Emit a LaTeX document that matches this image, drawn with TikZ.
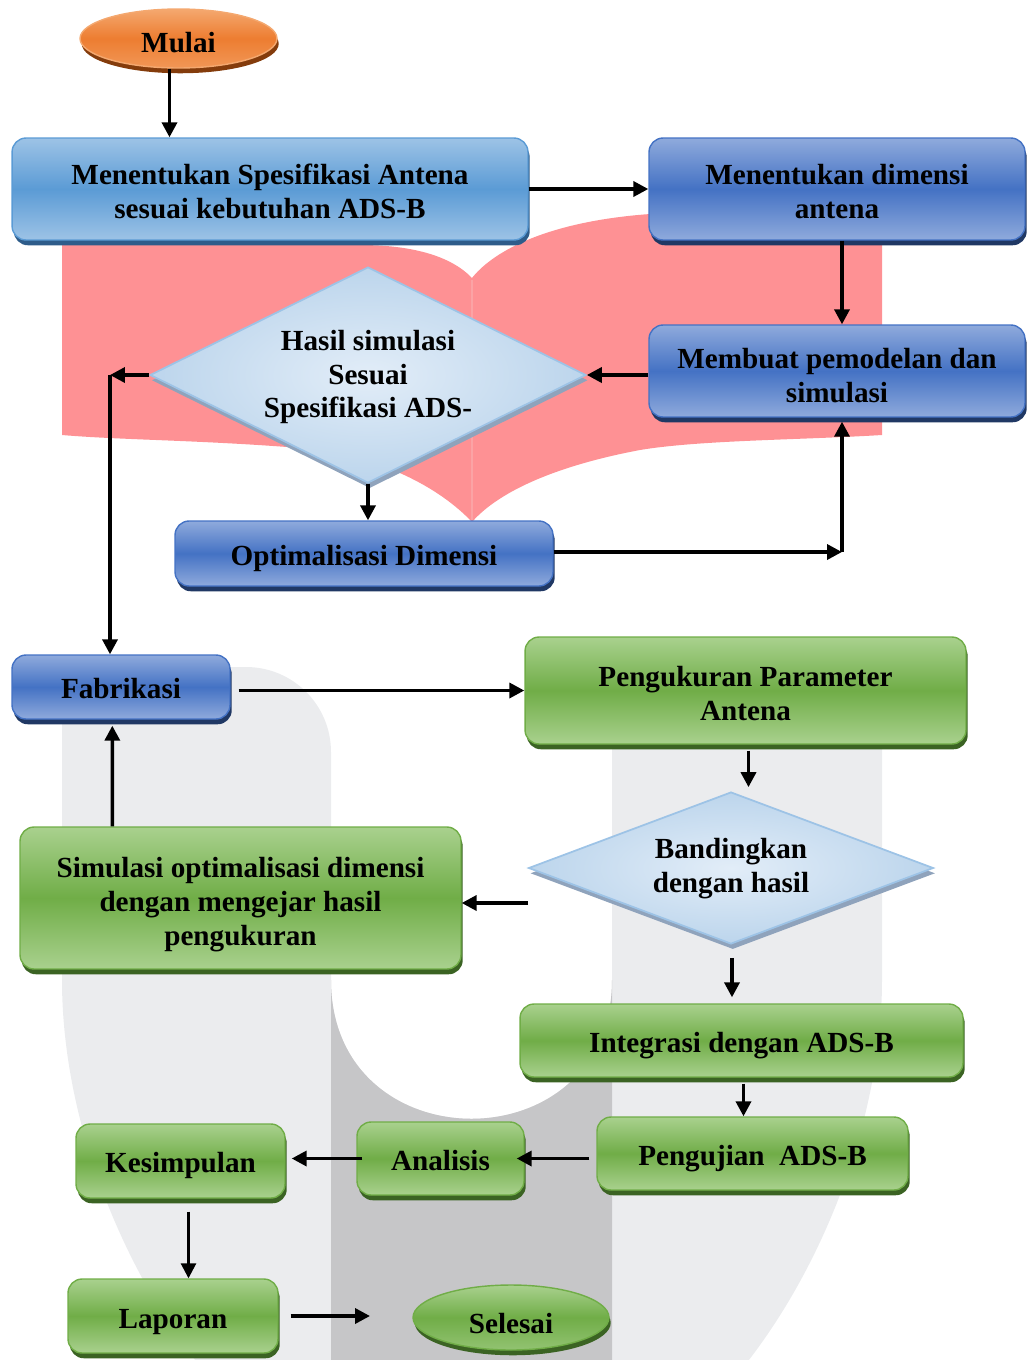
\documentclass[tikz,border=0pt]{standalone}
\usepackage{fontspec}
\setmainfont{Liberation Serif}
\usetikzlibrary{shapes.geometric,shadows,arrows.meta,calc}

\definecolor{pinkbk}{HTML}{FE9194}
\definecolor{pinksp}{HTML}{FBA3A5}
\definecolor{ulight}{HTML}{EBECEE}
\definecolor{udark}{HTML}{C6C6C8}
\definecolor{orgA}{HTML}{F4A86F}
\definecolor{orgB}{HTML}{ED7D31}
\definecolor{orgS}{HTML}{843C0C}
\definecolor{lbA}{HTML}{9DC3E6}
\definecolor{lbB}{HTML}{5B9BD5}
\definecolor{lbS}{HTML}{2E5C8A}
\definecolor{dbA}{HTML}{8FAADC}
\definecolor{dbB}{HTML}{4472C4}
\definecolor{dbS}{HTML}{203864}
\definecolor{grA}{HTML}{A9D18E}
\definecolor{grB}{HTML}{70AD47}
\definecolor{grS}{HTML}{3B6323}
\definecolor{diA}{HTML}{E2EDF8}
\definecolor{diB}{HTML}{BCD5EC}
\definecolor{diS}{HTML}{8FA3BC}
\definecolor{diD}{HTML}{9DC3E6}

% text block lowered a little inside its node (as in the reference)
\newcommand\lowtx[2][2.6pt]{\raisebox{-#1}[\height][\depth]{\begin{tabular}{@{}c@{}}#2\end{tabular}}}

\begin{document}
\begin{tikzpicture}[x=0.02cm, y=-0.02cm,
  txt/.style={font=\bfseries\fontsize{16.6}{19.3}\selectfont, text=black, inner sep=0pt},
  boxbase/.style={txt, rectangle, rounded corners=8pt, line width=0.8pt},
  lbbox/.style={boxbase, draw=lbB, top color=lbA, bottom color=lbA, middle color=lbB,
    drop shadow={shadow xshift=1pt, shadow yshift=-3pt, fill=lbS, opacity=1}},
  dbbox/.style={boxbase, draw=dbB, top color=dbA, bottom color=dbA, middle color=dbB,
    drop shadow={shadow xshift=1pt, shadow yshift=-3pt, fill=dbS, opacity=1}},
  gbox/.style={boxbase, draw=grB, top color=grA, bottom color=grA, middle color=grB,
    drop shadow={shadow xshift=1pt, shadow yshift=-3pt, fill=grS, opacity=1}},
  gell/.style={txt, ellipse, line width=0.8pt, draw=grB, top color=grA, bottom color=grA!60!grB, middle color=grB,
    drop shadow={shadow xshift=1pt, shadow yshift=-3pt, fill=grS, opacity=1}},
  oell/.style={txt, ellipse, line width=0.8pt, draw=orgA, top color=orgA, bottom color=orgA!60!orgB, middle color=orgB,
    drop shadow={shadow xshift=1pt, shadow yshift=-3pt, fill=orgS, opacity=1}},
  dia/.style={txt, diamond, draw=diD, line width=1pt, inner color=diA, outer color=diB,
    drop shadow={shadow xshift=1pt, shadow yshift=-3pt, fill=diS, opacity=1}},
  arr/.style={line width=2pt, -{Triangle[length=8.5pt,width=8.5pt]}},
]
\useasboundingbox (0,0) rectangle (1027,1360);

% ---------- background ----------
\begin{scope}
\clip (0,0) rectangle (1027,1360);
\fill[ulight] (62,980) -- (62,667) -- (246,667) .. controls (293,667) and (331,705) .. (331,752)
  -- (331,980) .. controls (331,1165) and (612,1165) .. (612,980)
  -- (612,730) .. controls (612,690) and (640,660) .. (690,660) -- (805,660)
  .. controls (850,660) and (882,695) .. (882,735) -- (882,980)
  .. controls (882,1150) and (794,1330) .. (694,1420) -- (250,1420)
  .. controls (150,1330) and (62,1150) .. (62,980) -- cycle;
\fill[udark] (331,980) .. controls (331,1165) and (612,1165) .. (612,980) -- (612,1420) -- (331,1420) -- cycle;
\fill[pinkbk] (62,245) -- (360,245) .. controls (410,245) and (450,255) .. (472,278)
  .. controls (490,255) and (540,222) .. (650,214) -- (882,213) -- (882,435)
  .. controls (800,440) and (700,440) .. (640,450) .. controls (560,465) and (500,490) .. (472,522)
  .. controls (440,488) and (380,455) .. (300,448) .. controls (200,440) and (120,440) .. (62,435) -- cycle;
\draw[pinksp, line width=0.8pt] (472,280) -- (472,520);
\end{scope}

% ---------- nodes ----------
\node[oell, minimum width=3.94cm, minimum height=1.18cm] (mulai) at (178.5,38.5) {\lowtx[4pt]{Mulai}};
\node[lbbox, minimum width=10.32cm, minimum height=2.04cm] (spec) at (270,189) {\lowtx[3.4pt]{Menentukan Spesifikasi Antena\\sesuai kebutuhan ADS-B}};
\node[dbbox, minimum width=7.52cm, minimum height=2.04cm] (dim) at (837,189) {\lowtx[3.4pt]{Menentukan dimensi\\antena}};
\node[dbbox, minimum width=7.52cm, minimum height=1.84cm] (model) at (837,371) {\lowtx[4.5pt]{Membuat pemodelan dan\\simulasi}};
\node[dia, aspect=2, minimum width=8.72cm, minimum height=4.32cm] (d1) at (368,375) {\lowtx[1.3pt]{Hasil simulasi\\Sesuai\\Spesifikasi ADS-}};
\node[dbbox, minimum width=7.56cm, minimum height=1.30cm] (opt) at (364,553.5) {\lowtx[3.2pt]{Optimalisasi Dimensi}};
\node[dbbox, minimum width=4.36cm, minimum height=1.28cm] (fab) at (121,687) {\lowtx[2.8pt]{Fabrikasi}};
\node[gbox, minimum width=8.82cm, minimum height=2.14cm] (ukur) at (745.5,690.5) {\lowtx[3.6pt]{Pengukuran Parameter\\Antena}};
\node[dia, aspect=2.66, minimum width=8.10cm, minimum height=3.04cm] (d2) at (731,868) {\lowtx[0.4pt]{Bandingkan\\dengan hasil}};
\node[gbox, minimum width=8.82cm, minimum height=2.84cm] (sim) at (240.5,898) {\lowtx[3.6pt]{Simulasi optimalisasi dimensi\\dengan mengejar hasil\\pengukuran}};
\node[gbox, minimum width=8.86cm, minimum height=1.46cm] (integ) at (741.5,1040.5) {\lowtx[2.8pt]{Integrasi dengan ADS-B}};
\node[gbox, minimum width=6.22cm, minimum height=1.46cm] (uji) at (752.5,1153.5) {\lowtx[2.8pt]{Pengujian~ ADS-B}};
\node[gbox, minimum width=3.34cm, minimum height=1.46cm] (anal) at (440.5,1158.5) {\lowtx[2.8pt]{Analisis}};
\node[gbox, minimum width=4.18cm, minimum height=1.48cm] (kes) at (180.5,1161) {\lowtx[2.6pt]{Kesimpulan}};
\node[gbox, minimum width=4.20cm, minimum height=1.48cm] (lap) at (173,1316) {\lowtx[3.2pt]{Laporan}};
\node[gell, minimum width=3.92cm, minimum height=1.30cm] (sel) at (511,1317.5) {\lowtx[5.5pt]{Selesai}};

% ---------- connectors ----------
\coordinate (c1) at (110,375);
\coordinate (c2) at (842,552);
\coordinate (c3) at (528,903);
\coordinate (c5) at (370,1316);

\draw[arr] ($(mulai.south)+(-9,0)$) -- ($(mulai.south |- spec.north)+(-9,0)$);
\draw[arr] (spec.east |- dim.west) -- (dim.west);
\draw[arr] ($(dim.south)+(5,0)$) -- ($(model.north)+(5,0)$);
\draw[arr] (model.west |- d1.east) -- (d1.east);
\draw[arr] (d1.west) -- (c1);
\draw[arr] (c1) -- (c1 |- fab.north);
\draw[arr] (d1.south) -- (d1.south |- opt.north);
\draw[arr] (opt.east |- c2) -- (c2);
\draw[arr] (c2) -- ($(c2 |- model.south)+(0,4)$);
\draw[arr] ($(fab.east |- ukur.west)+(8,0)$) -- (ukur.west);
\draw[arr] ($(ukur.south)+(3,6)$) -- ($(ukur.south |- d2.north)+(3,-4)$);
\draw[arr] (c3) -- (c3 -| sim.east);
\draw[arr] ($(sim.north west)+(93,0)$) -- ($(fab.south west)+(101,6)$);
\draw[arr] ($(d2.south)+(1,13)$) -- ($(d2.south |- integ.north)+(1,-6)$);
\draw[arr] ($(integ.south)+(2,6)$) -- ($(integ.south |- uji.north)+(2,0)$);
\draw[arr] ($(uji.west |- anal.east)+(-7,0)$) -- ($(anal.east)+(-8,0)$);
\draw[arr] ($(anal.west)+(6,0)$) -- ($(kes.east |- anal.west)+(6,0)$);
\draw[arr, line width=1.5pt] ($(kes.south)+(8,13)$) -- ($(kes.south |- lap.north)+(8,0)$);
\draw[arr] ($(lap.east)+(12,0)$) -- (c5);
\end{tikzpicture}
\end{document}
